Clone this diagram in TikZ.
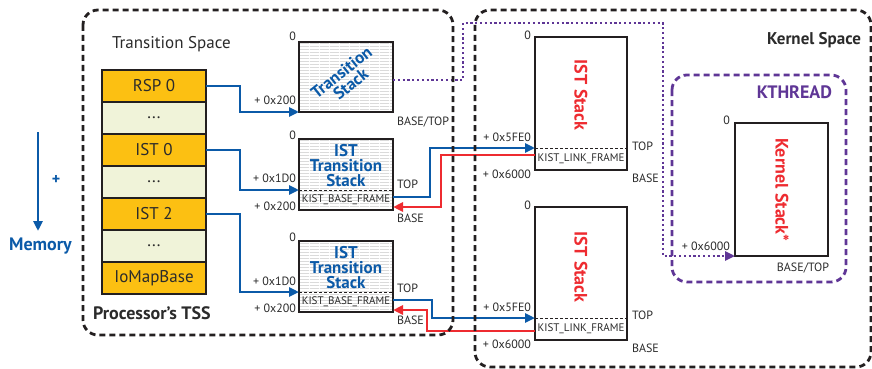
\documentclass[tikz,border=0pt]{standalone}
\usepackage{fontspec}
\setmainfont{PT Sans}
\usetikzlibrary{arrows.meta,patterns}
\definecolor{dark}{HTML}{231F20}
\definecolor{txt}{HTML}{2B2B2B}
\definecolor{orng}{HTML}{FCC012}
\definecolor{pale}{HTML}{F0F3D9}
\definecolor{blu}{HTML}{0B5AA8}
\definecolor{rd}{HTML}{EE2B30}
\definecolor{purp}{HTML}{5F3696}
\newcommand{\myfs}[1]{\fontsize{#1pt}{#1pt}\selectfont}
\pgfdeclarepatternformonly{hatchlines}{\pgfpointorigin}{\pgfpoint{10pt}{2.7pt}}{\pgfpoint{10pt}{2.7pt}}{\pgfpathrectangle{\pgfpointorigin}{\pgfpoint{10pt}{0.8pt}}\pgfusepath{fill}}
\begin{document}
\begin{tikzpicture}[x=1pt,y=-1pt,
 every node/.style={inner sep=0pt,outer sep=0pt,text=txt},
 lbl/.style={font=\myfs{12}},
 tssrow/.style={draw=dark,line width=2.8pt,minimum width=104pt,minimum height=32pt,font=\myfs{17}},
 orow/.style={tssrow,fill=orng},
 prow/.style={tssrow,fill=pale},
 stackbox/.style={draw=dark,line width=2.8pt},
 tstack/.style={stackbox,pattern=hatchlines,pattern color=gray!45,minimum width=94pt},
 kstack/.style={stackbox,fill=white,minimum width=92pt,minimum height=133pt},
 divider/.style={dark,line width=1pt,dash pattern=on 3pt off 2pt},
 frame/.style={font=\myfs{11}},
 bigblue/.style={font=\bfseries\fontsize{17pt}{15pt}\selectfont,text=blu,align=center},
 bigred/.style={font=\bfseries\myfs{18},text=rd,rotate=-90},
 conn/.style={line width=2.6pt,-{Triangle[length=10pt,width=9pt]}},
 bconn/.style={conn,blu},
 rconn/.style={conn,rd},
 pconn/.style={purp,line width=2.8pt,dash pattern=on 2.2pt off 2.6pt,-{Triangle[length=10pt,width=9pt]}},
 region/.style={dark,line width=2.8pt,dash pattern=on 6pt off 4pt,rounded corners=15pt},
 kthbox/.style={purp,line width=2.8pt,dash pattern=on 6pt off 4pt,rounded corners=15pt}]
\useasboundingbox (0,0) rectangle (872,369);

% ---------- labels of regions ----------
\node[anchor=west,font=\myfs{17}] (tslabel) at (112,44) {Transition Space};
\node[anchor=west,font=\bfseries\myfs{18}] (tsslabel) at (93,313) {Processor’s TSS};
\node[anchor=east,font=\bfseries\myfs{17}] (kslabel) at (861,40) {Kernel Space};
\node[anchor=east,font=\bfseries\myfs{18},text=purp] (kthlabel) at (832,92) {KTHREAD};

% ---------- memory arrow ----------
\node[font=\bfseries\myfs{18},text=blu] (memory) at (40.5,246) {Memory};
\node[font=\bfseries\myfs{16},text=blu] (plus) at (56,180) {+};
\coordinate (mtop) at (38,132);
\coordinate (mbot) at (38,231);
\draw[bconn] (mtop) -- (mbot);

% ---------- TSS ----------
\node[orow] (rsp0) at (154,86) {RSP 0};
\node[prow] (dots1) at (154,118) {...};
\node[orow] (ist0) at (154,150) {IST 0};
\node[prow] (dots2) at (154,182) {...};
\node[orow] (ist2) at (154,214) {IST 2};
\node[prow] (dots3) at (154,246) {...};
\node[orow] (iomap) at (154,278) {IoMapBase};

% ---------- Transition stack ----------
\node[tstack,minimum height=70pt] (ts) at (346,77) {};
\node[bigblue,rotate=38.5] (tstext) at (346,78) {Transition\\Stack};
\node[lbl,anchor=east] (ts0) at ([xshift=-3pt,yshift=6pt]ts.north west) {0};
\node[lbl,anchor=east] (tsoff) at ([xshift=-3pt,yshift=12pt]ts.south west) {+ 0x200};
\node[lbl,anchor=west] (tsbt) at ([xshift=4pt,yshift=-10pt]ts.south east) {BASE/TOP};

% ---------- IST transition stacks ----------
\node[tstack,minimum height=71pt] (its1) at (346,174.5) {};
\node[bigblue] (its1text) at (346,166) {IST\\Transition\\Stack};
\draw[divider] ([yshift=20pt]its1.south west) -- ([yshift=20pt]its1.south east);
\node[frame] (kbf1) at (346,200) {KIST\_BASE\_FRAME};
\node[lbl,anchor=east] (its10) at ([xshift=-3pt,yshift=4pt]its1.north west) {0};
\node[lbl,anchor=east] (its1a) at ([xshift=-3pt,yshift=32pt]its1.south west) {+ 0x1D0};
\node[lbl,anchor=east] (its1b) at ([xshift=-3pt,yshift=4pt]its1.south west) {+ 0x200};
\node[lbl,anchor=west] (its1top) at ([xshift=4pt,yshift=26pt]its1.south east) {TOP};
\node[lbl,anchor=west] (its1base) at ([xshift=4pt,yshift=-8pt]its1.south east) {BASE};

\node[tstack,minimum height=71pt] (its2) at (346,276.5) {};
\node[bigblue] (its2text) at (346,268) {IST\\Transition\\Stack};
\draw[divider] ([yshift=20pt]its2.south west) -- ([yshift=20pt]its2.south east);
\node[frame] (kbf2) at (346,302) {KIST\_BASE\_FRAME};
\node[lbl,anchor=east] (its20) at ([xshift=-3pt,yshift=4pt]its2.north west) {0};
\node[lbl,anchor=east] (its2a) at ([xshift=-3pt,yshift=31pt]its2.south west) {+ 0x1D0};
\node[lbl,anchor=east] (its2b) at ([xshift=-3pt,yshift=4pt]its2.south west) {+ 0x200};
\node[lbl,anchor=west] (its2top) at ([xshift=4pt,yshift=24pt]its2.south east) {TOP};
\node[lbl,anchor=west] (its2base) at ([xshift=4pt,yshift=-8pt]its2.south east) {BASE};

% ---------- IST stacks ----------
\node[kstack] (is1) at (581,103.5) {};
\node[bigred] (is1text) at (581,95) {IST Stack};
\draw[divider] ([yshift=22pt]is1.south west) -- ([yshift=22pt]is1.south east);
\node[frame] (klf1) at (581,159) {KIST\_LINK\_FRAME};
\node[lbl,anchor=east] (is10) at ([xshift=-4pt,yshift=2pt]is1.north west) {0};
\node[lbl,anchor=east] (is1a) at ([xshift=-4pt,yshift=33pt]is1.south west) {+ 0x5FE0};
\node[lbl,anchor=east] (is1b) at ([xshift=-4pt,yshift=-4pt]is1.south west) {+ 0x6000};
\node[lbl,anchor=west] (is1top) at ([xshift=5pt,yshift=24pt]is1.south east) {TOP};
\node[lbl,anchor=west] (is1base) at ([xshift=5pt,yshift=-8pt]is1.south east) {BASE};

\node[kstack] (is2) at (581,273.5) {};
\node[bigred] (is2text) at (581,267) {IST Stack};
\draw[divider] ([yshift=22pt]is2.south west) -- ([yshift=22pt]is2.south east);
\node[frame] (klf2) at (581,329) {KIST\_LINK\_FRAME};
\node[lbl,anchor=east] (is20) at ([xshift=-4pt,yshift=2pt]is2.north west) {0};
\node[lbl,anchor=east] (is2a) at ([xshift=-4pt,yshift=33pt]is2.south west) {+ 0x5FE0};
\node[lbl,anchor=east] (is2b) at ([xshift=-4pt,yshift=-4pt]is2.south west) {+ 0x6000};
\node[lbl,anchor=west] (is2top) at ([xshift=5pt,yshift=25pt]is2.south east) {TOP};
\node[lbl,anchor=west] (is2base) at ([xshift=5pt,yshift=-8pt]is2.south east) {BASE};

% ---------- Kernel stack ----------
\node[kstack,minimum width=93pt] (ks) at (781.5,189.5) {};
\node[bigred] (kstext) at (782,190) {Kernel Stack*};
\node[lbl,anchor=east] (ks0) at ([xshift=-5pt,yshift=3pt]ks.north west) {0};
\node[lbl,anchor=east] (ksa) at ([xshift=-5pt,yshift=10pt]ks.south west) {+ 0x6000};
\node[lbl,anchor=east] (ksbt) at ([xshift=1pt,yshift=-12pt]ks.south east) {BASE/TOP};

% ---------- connectors ----------
\draw[bconn] (rsp0.east) -- ++(34,0) |- (ts.south west);
\draw[bconn] (ist0.east) -- ++(34,0) |- ([yshift=20pt]its1.south west);
\draw[bconn] (ist2.east) -- ++(34,0) |- ([yshift=20pt]its2.south west);

\draw[bconn] ([yshift=13pt]its1.south east) -- ++(37,0) |- ([yshift=22pt]is1.south west);
\draw[rconn] ([yshift=15pt]is1.south west) -- ++(-94,0) |- ([yshift=3pt]its1.south east);
\draw[bconn] ([yshift=12pt]its2.south east) -- ++(39,0) |- ([yshift=22pt]is2.south west);
\draw[rconn] ([yshift=9pt]is2.south west) -- ++(-108,0) |- ([yshift=2pt]its2.south east);

\draw[pconn] ([yshift=-3pt]ts.east) -| ++(70,-57) -- ++(200,0) |- (ks.south west);

% ---------- region frames ----------
\draw[region] (83,10) rectangle (453,335);
\draw[region] (475,10) rectangle (871,367);
\draw[kthbox] (672,75) rectangle (846,282);
\end{tikzpicture}
\end{document}
